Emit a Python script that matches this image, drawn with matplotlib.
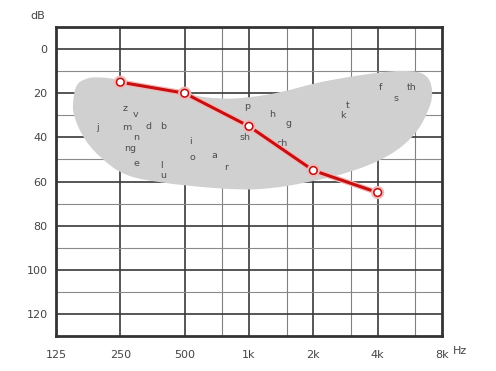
import matplotlib
matplotlib.use('Agg')
import matplotlib.pyplot as plt
import matplotlib.patheffects as pe
from matplotlib.path import Path
from matplotlib.patches import PathPatch
import numpy as np

# audiogram points
freqs = [250, 500, 1000, 2000, 4000]
levels = [15, 20, 35, 55, 65]

# speech banana outline (Hz, dB), used as curve control points
banana_f = [150, 155, 170, 192, 250, 363, 500, 732, 1000, 1444, 2000, 2976, 4110, 5600,
            6900, 7300, 6900, 6000, 4580, 2976, 1870, 1256, 908, 590, 383, 262, 205, 170, 150]
banana_db = [23, 16, 13.5, 12.5, 13.8, 17, 20.5, 22.8, 22, 19.5, 15.5, 12.5, 10.5, 9.5,
             11.5, 20, 28.5, 39, 48.5, 56, 60.5, 63.3, 63.8, 62.5, 60.5, 57.5, 50, 41.4, 30]

# speech sounds
sounds = ['z', 'v', 'j', 'm', 'd', 'b', 'n', 'ng', 'e', 'l', 'u', 'i', 'o', 'a', 'r',
          'p', 'sh', 'h', 'g', 'ch', 'k', 't', 'f', 's', 'th']
sound_f = [263, 296, 195, 269, 337, 396, 296, 278, 296, 388, 396, 530, 542, 687, 781,
           980, 958, 1282, 1526, 1426, 2755, 2883, 4110, 4890, 5740]
sound_db = [26.8, 29.5, 35.5, 35.5, 35, 35, 40, 45, 51.8, 52.7, 57.3, 41.8, 49, 48.2, 53.6,
            25.9, 40, 29.5, 33.6, 42.7, 30, 25.5, 17.3, 22.3, 17.3]

xticks = [125, 250, 500, 1000, 2000, 4000, 8000]
xlabels = ['125', '250', '500', '1k', '2k', '4k', '8k']
yticks = [0, 20, 40, 60, 80, 100, 120]

fig = plt.figure(figsize=(4.96, 3.71), dpi=100)
ax = fig.add_axes([56/496, 1-336/371, 386/496, 309/371])
ax.set_xscale('log', base=2)
ax.set_xlim(125, 8000)
ax.set_ylim(130, -10)

# grid
for f in xticks[1:-1]:
    ax.axvline(f, color='#3a3a3a', lw=1.2, zorder=1)
for f in [750, 1500, 3000, 6000]:
    ax.axvline(f, color='#808080', lw=0.8, zorder=1)
for d in range(0, 130, 20):
    ax.axhline(d, color='#3a3a3a', lw=1.2, zorder=1)
for d in range(10, 130, 20):
    ax.axhline(d, color='#8a8a8a', lw=0.8, zorder=1)

# smooth banana: quadratic curves through midpoints, drawn in display space
pts = ax.transData.transform(np.column_stack([banana_f, banana_db]))
n = len(pts)
mids = [(pts[i] + pts[(i + 1) % n]) / 2 for i in range(n)]
verts = [mids[-1]]
codes = [Path.MOVETO]
for i in range(n):
    verts += [pts[i], mids[i]]
    codes += [Path.CURVE3, Path.CURVE3]
verts = ax.transData.inverted().transform(np.array(verts))
ax.add_patch(PathPatch(Path(verts, codes), facecolor='#d0d0d0', lw=0, zorder=2))

for s, f, d in zip(sounds, sound_f, sound_db):
    ax.text(f, d, s, fontsize=6.8, color='#4d4d4d', ha='center', va='center', zorder=3)

ax.plot(freqs, levels, color='#c80f0f', lw=2.2, zorder=4,
        marker='o', markersize=5.5, markerfacecolor='white', markeredgecolor='#b80f0f',
        markeredgewidth=1.1,
        path_effects=[pe.Stroke(linewidth=4, foreground='#f2b8b8'), pe.Normal()])

ax.set_xticks(xticks)
ax.set_xticklabels(xlabels)
ax.minorticks_off()
ax.set_yticks(yticks)
ax.tick_params(length=0, labelsize=8, labelcolor='#444444', pad=10)
ax.tick_params(axis='y', pad=6)
for sp in ax.spines.values():
    sp.set_linewidth(2)
    sp.set_color('#333333')

fig.text(38/496, 1-16/371, 'dB', fontsize=8, color='#444444', ha='center', va='center')
fig.text(453/496, 1-351/371, 'Hz', fontsize=8, color='#444444', ha='left', va='center')

fig.savefig('out.png', dpi=100)
